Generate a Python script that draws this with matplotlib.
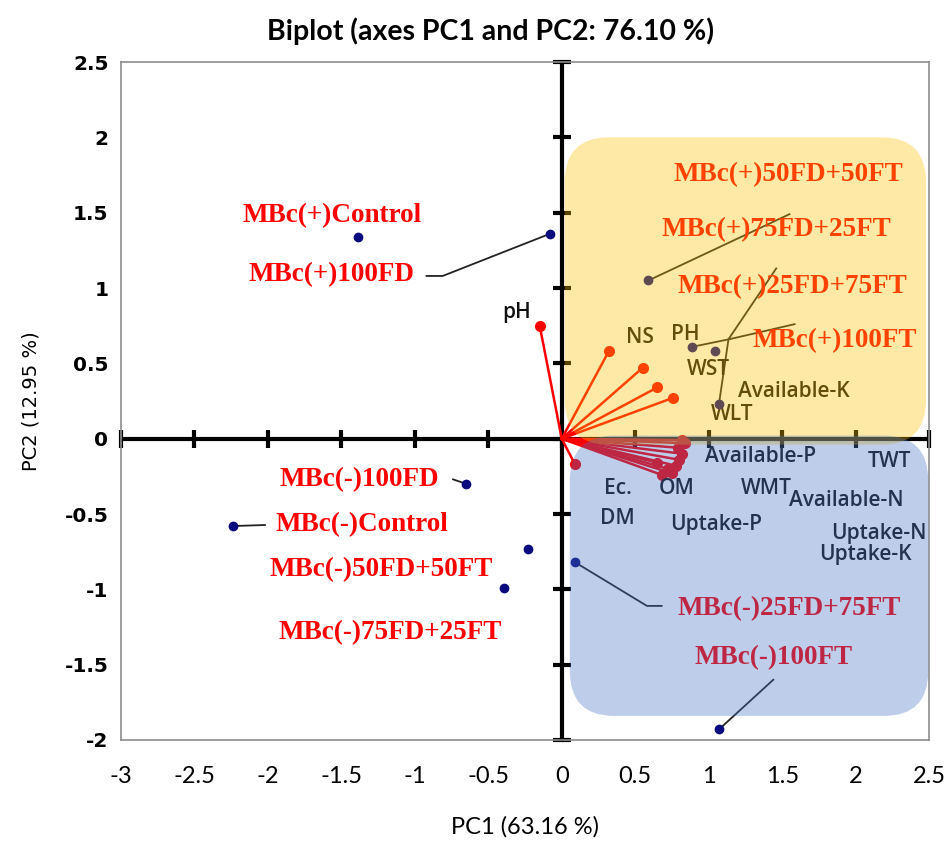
import numpy as np
import matplotlib
matplotlib.use("Agg")
import matplotlib.pyplot as plt
from matplotlib.patches import FancyBboxPatch

# ---------------- data ----------------
obs_names = ["MBc(+)Control", "MBc(+)100FD", "MBc(+)75FD+25FT", "MBc(+)100FT",
             "MBc(+)50FD+50FT", "MBc(+)25FD+75FT",
             "MBc(-)100FD", "MBc(-)Control", "MBc(-)50FD+50FT", "MBc(-)75FD+25FT",
             "MBc(-)25FD+75FT", "MBc(-)100FT"]
obs_pc1 = [-1.39, -0.08, 0.59, 0.89, 1.04, 1.07, -0.65, -2.24, -0.23, -0.39, 0.09, 1.07]
obs_pc2 = [1.34, 1.36, 1.05, 0.61, 0.58, 0.23, -0.30, -0.58, -0.73, -0.99, -0.82, -1.93]

var_names = ["pH", "NS", "PH", "WST", "Available-K", "WLT",
             "Available-P", "TWT", "Ec.", "OM", "WMT", "Available-N",
             "DM", "Uptake-P", "Uptake-N", "Uptake-K"]
var_pc1 = [-0.15, 0.32, 0.55, 0.65, 0.755, 0.82,
           0.84, 0.82, 0.09, 0.68, 0.80, 0.79, 0.65, 0.75, 0.78, 0.72]
var_pc2 = [0.75, 0.58, 0.47, 0.34, 0.27, -0.01,
           -0.03, -0.10, -0.17, -0.24, -0.14, -0.06, -0.16, -0.23, -0.18, -0.20]

x_ticks = [-3, -2.5, -2, -1.5, -1, -0.5, 0, 0.5, 1, 1.5, 2, 2.5]
x_tick_labels = ["-3", "-2.5", "-2", "-1.5", "-1", "-0.5", "0", "0.5", "1", "1.5", "2", "2.5"]
y_ticks = [-2, -1.5, -1, -0.5, 0, 0.5, 1, 1.5, 2, 2.5]
y_tick_labels = ["-2", "-1.5", "-1", "-0.5", "0", "0.5", "1", "1.5", "2", "2.5"]

title = "Biplot (axes PC1 and PC2: 76.10 %)"
x_label = "PC1 (63.16 %)"
y_label = "PC2 (12.95 %)"

# ---------------- layout (label placement, leaders) ----------------
obs_label_pos = {
    "MBc(+)Control": (-1.56, 1.48), "MBc(+)100FD": (-1.57, 1.09),
    "MBc(+)50FD+50FT": (1.54, 1.75), "MBc(+)75FD+25FT": (1.46, 1.39),
    "MBc(+)25FD+75FT": (1.57, 1.01), "MBc(+)100FT": (1.86, 0.65),
    "MBc(-)100FD": (-1.38, -0.27), "MBc(-)Control": (-1.36, -0.57),
    "MBc(-)50FD+50FT": (-1.23, -0.87), "MBc(-)75FD+25FT": (-1.17, -1.29),
    "MBc(-)25FD+75FT": (1.55, -1.13), "MBc(-)100FT": (1.44, -1.45),
}
var_label_pos = {
    "pH": (-0.31, 0.84), "NS": (0.53, 0.67), "PH": (0.84, 0.69), "WST": (1.0, 0.46),
    "Available-K": (1.58, 0.31), "WLT": (1.16, 0.16),
    "Available-P": (1.35, -0.12), "TWT": (2.23, -0.15), "Ec.": (0.38, -0.33),
    "OM": (0.78, -0.33), "WMT": (1.39, -0.33), "Available-N": (1.94, -0.41),
    "DM": (0.38, -0.53), "Uptake-P": (1.05, -0.57), "Uptake-N": (2.16, -0.63),
    "Uptake-K": (2.07, -0.77),
}
# leader lines: observation index -> intermediate/end points
leaders = {
    1: [(-0.81, 1.08), (-0.92, 1.08)],
    2: [(1.55, 1.49)],
    3: [(1.14, 0.66), (1.585, 0.76)],
    5: [(1.135, 0.66), (1.46, 1.13)],
    6: [(-0.74, -0.27)],
    7: [(-2.02, -0.573)],
    10: [(0.58, -1.11), (0.68, -1.11)],
    11: [(1.44, -1.60)],
}

plt.rcParams["font.family"] = ["DejaVu Sans"]
fig = plt.figure(figsize=(9.48, 8.46), dpi=100)
ax = fig.add_axes([0.1276, 0.1253, 0.8524, 0.8014])
ax.set_xlim(x_ticks[0], x_ticks[-1])
ax.set_ylim(y_ticks[0], y_ticks[-1])

for s in ax.spines.values():
    s.set_color("#8c8c8c")
    s.set_linewidth(1.2)

ax.set_xticks(x_ticks)
ax.set_xticklabels(x_tick_labels, family=["Lato", "DejaVu Sans"], fontsize=17)
ax.set_yticks(y_ticks)
ax.set_yticklabels(y_tick_labels, fontweight="bold", fontsize=14.5)
ax.tick_params(axis="x", length=0, pad=19)
ax.tick_params(axis="y", length=0, pad=9)

ax.set_xlabel(x_label, family=["Lato", "DejaVu Sans"], fontsize=17, labelpad=21)
ax.set_ylabel(y_label, fontsize=14, labelpad=17)
fig.text(0.517, 0.963, title, ha="center", va="center",
         family=["Lato", "DejaVu Sans"], fontweight="bold", fontsize=20.5)

# centre axes with crossing ticks
ax.axhline(0, color="black", lw=3, zorder=2)
ax.axvline(0, color="black", lw=3, zorder=2)
ax.plot(x_ticks, np.zeros(len(x_ticks)), ls="none", marker="|", ms=13, mew=3,
        color="black", zorder=2, clip_on=False)
ax.plot(np.zeros(len(y_ticks)), y_ticks, ls="none", marker="_", ms=13, mew=3,
        color="black", zorder=2, clip_on=False)

# variable vectors
for name, vx, vy in zip(var_names, var_pc1, var_pc2):
    ax.plot([0, vx], [0, vy], color="#ff0000", lw=1.8, zorder=3)
    ax.plot(vx, vy, "o", color="#ff0000", ms=7, zorder=3)
    lx, ly = var_label_pos[name]
    ax.text(lx, ly, name, ha="center", va="center", fontsize=15,
            family=["Open Sans", "DejaVu Sans"], fontweight="semibold",
            color="#111111", zorder=4)

# observations
ax.plot(obs_pc1, obs_pc2, "o", color="#0a0a80", ms=6, zorder=4, ls="none")
for i, (name, ox, oy) in enumerate(zip(obs_names, obs_pc1, obs_pc2)):
    lx, ly = obs_label_pos[name]
    ax.text(lx, ly, name, ha="center", va="center", fontsize=19.5,
            family=["Liberation Serif", "DejaVu Serif"], fontweight="bold",
            color="#ff0000", zorder=4)
    if i in leaders:
        pts = [(ox, oy)] + leaders[i]
        ax.plot([p[0] for p in pts], [p[1] for p in pts], color="#222222",
                lw=1.3, zorder=3)

# translucent highlight boxes (on top)
yellow = FancyBboxPatch((0.02 + 0.3, -0.04 + 0.3), 2.46 - 0.6, 2.04 - 0.6,
                        boxstyle="round,pad=0.3", facecolor="#ffc000",
                        edgecolor="none", alpha=0.35, zorder=6)
blue = FancyBboxPatch((0.055 + 0.3, -1.84 + 0.3), 2.44 - 0.6, 1.86 - 0.6,
                      boxstyle="round,pad=0.3", facecolor="#4472c4",
                      edgecolor="none", alpha=0.35, zorder=6)
ax.add_patch(yellow)
ax.add_patch(blue)

fig.savefig("out.png", dpi=100)
